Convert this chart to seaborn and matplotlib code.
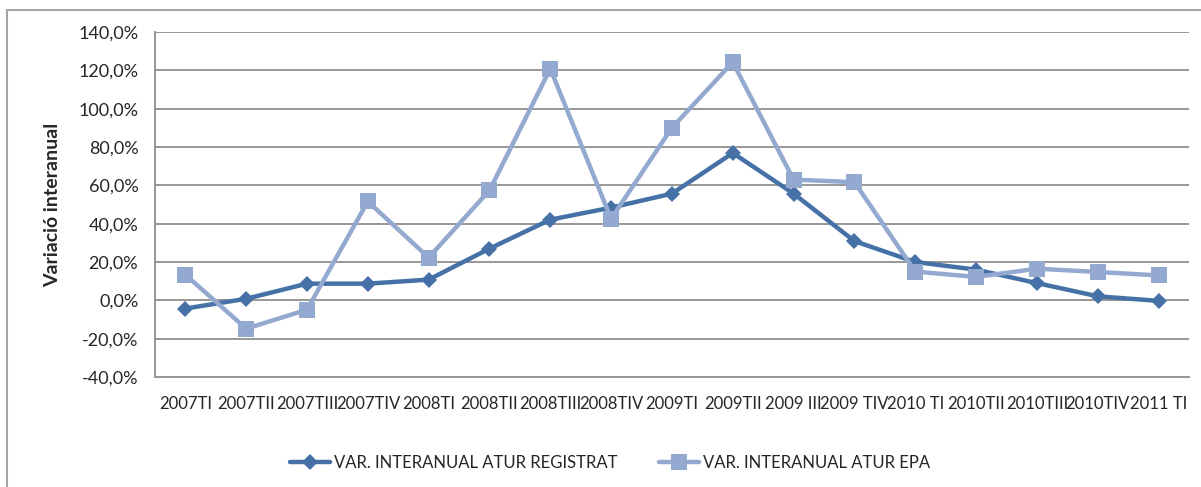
import matplotlib
matplotlib.use("Agg")
import matplotlib.pyplot as plt
from matplotlib.ticker import FuncFormatter
from matplotlib.patches import Rectangle
import pandas as pd
import seaborn as sns

# --------------------
# Data
# --------------------

quarters = ["2007TI", "2007TII", "2007TIII", "2007TIV", "2008TI", "2008TII",
            "2008TIII", "2008TIV", "2009TI", "2009TII", "2009 III", "2009 TIV",
            "2010 TI", "2010TII", "2010TIII", "2010TIV", "2011 TI"]

atur_registrat = [-4.3, 0.8, 8.7, 8.7, 10.8, 27.0, 42.1, 48.4, 55.7,
                  76.9, 55.7, 30.9, 20.0, 16.0, 9.0, 2.1, -0.3]

atur_epa = [13.4, -14.8, -4.9, 51.6, 22.3, 57.4, 120.9, 42.6, 90.1,
            124.3, 63.0, 61.7, 15.0, 12.2, 16.5, 14.8, 13.0]

label_registrat = "VAR. INTERANUAL ATUR REGISTRAT"
label_epa = "VAR. INTERANUAL ATUR EPA"

dark_blue = "#4571a7"
light_blue = "#94a9cf"
grid_grey = "#979797"

df = pd.DataFrame({"quarter": quarters,
                   "registrat": atur_registrat,
                   "epa": atur_epa})

# --------------------
# Figure
# --------------------

sns.set_style("white")
plt.rcParams["font.family"] = ["Lato", "DejaVu Sans"]

fig = plt.figure(figsize=(12.01, 4.87), dpi=100)
ax = fig.add_axes([0.129, 0.226, 0.861, 0.708])

sns.lineplot(data=df, x="quarter", y="registrat", ax=ax, color=dark_blue,
             linewidth=3.2, marker="D", markersize=8.5, markeredgewidth=0,
             sort=False, label=label_registrat, zorder=3)
sns.lineplot(data=df, x="quarter", y="epa", ax=ax, color=light_blue,
             linewidth=3.2, marker="s", markersize=11.5, markeredgewidth=0,
             sort=False, label=label_epa, zorder=3)

ax.set_xlim(-0.5, len(quarters) - 0.5)
ax.set_ylim(-40, 140)
ax.set_yticks(range(-40, 141, 20))
ax.yaxis.set_major_formatter(FuncFormatter(lambda v, p: f"{v:.1f}%".replace(".", ",")))

ax.grid(axis="y", color=grid_grey, linewidth=1.4)
ax.grid(axis="x", visible=False)
ax.set_axisbelow(True)
for side in ["top", "right"]:
    ax.spines[side].set_visible(False)
for side in ["left", "bottom"]:
    ax.spines[side].set_color(grid_grey)
    ax.spines[side].set_linewidth(1.4)

ax.tick_params(axis="y", labelsize=13, length=0, pad=12)
ax.tick_params(axis="x", labelsize=12, length=0, pad=14)
ax.set_xlabel("")
ax.set_ylabel("Variació interanual", fontsize=14, fontweight="bold", labelpad=12)

ax.legend(loc="center", bbox_to_anchor=(0.508, 0.05), bbox_transform=fig.transFigure,
          ncol=2, frameon=False, fontsize=12, handlelength=2.4,
          columnspacing=2.5, handletextpad=0.25)

# outer chart frame (runs off the right/bottom edge like the reference)
fig.patches.append(Rectangle((7 / 1201, -0.1), 1.2, 1.1 - 10 / 487,
                             transform=fig.transFigure, fill=False,
                             edgecolor="#a6a6a6", linewidth=1.5))

fig.savefig("out.png", dpi=100)
